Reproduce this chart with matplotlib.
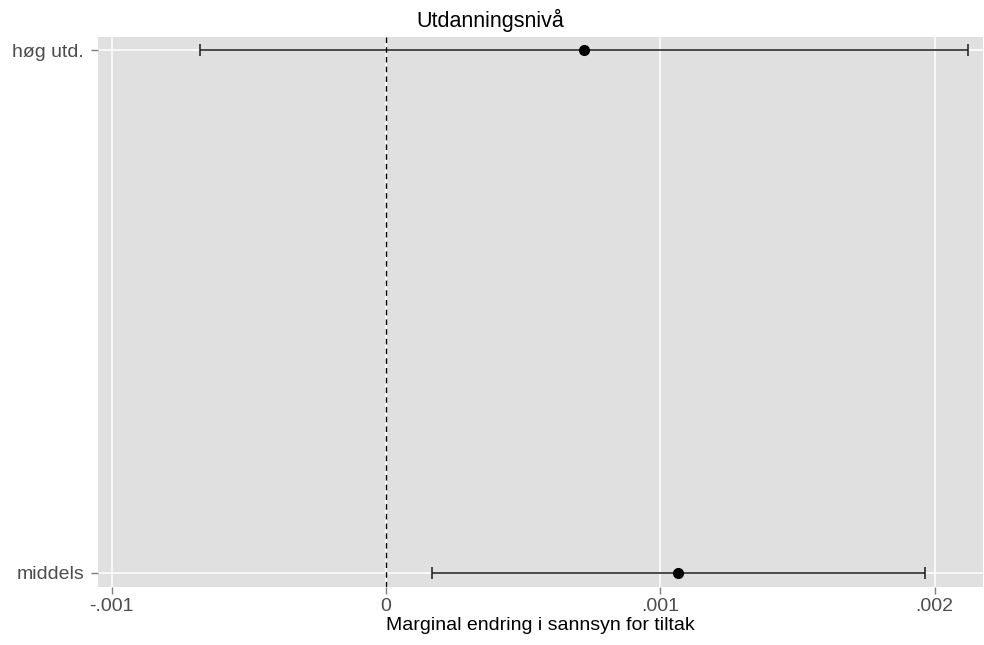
import matplotlib
matplotlib.use("Agg")
import matplotlib.pyplot as plt

categories = ["middels", "høg utd."]
estimates = [0.001065, 0.000722]
ci_low = [0.000168, -0.000679]
ci_high = [0.001964, 0.002123]
xticks = [-0.001, 0, 0.001, 0.002]
xticklabels = ["-.001", "0", ".001", ".002"]

plt.rcParams['font.family'] = ['Liberation Sans', 'DejaVu Sans']

fig = plt.figure(figsize=(9.84, 6.45), dpi=100)
ax = fig.add_axes([98/984, 1 - 587/645, (983-98)/984, (587-37)/645])
ax.set_facecolor("#E0E0E0")
for s in ax.spines.values():
    s.set_visible(False)

ypos = list(range(len(categories)))
ax.set_xlim(-0.00105, 0.002176)
ax.set_ylim(-0.027, 1.025)
ax.set_xticks(xticks)
ax.set_xticklabels(xticklabels)
ax.set_yticks(ypos)
ax.set_yticklabels(categories)
ax.grid(True, color="white", linewidth=1.1)
ax.set_axisbelow(True)
ax.tick_params(axis="both", colors="#7f7f7f", labelcolor="#4d4d4d", labelsize=14, length=5, width=1)
ax.tick_params(axis="y", pad=5)
ax.tick_params(axis="x", pad=3)

ax.axvline(0, color="black", linestyle=(0, (4, 3)), linewidth=1.0, zorder=2)

xerr = [[e - l for e, l in zip(estimates, ci_low)], [h - e for e, h in zip(estimates, ci_high)]]
ax.errorbar(estimates, ypos, xerr=xerr, fmt="o", color="black", ecolor="#1a1a1a",
            elinewidth=1.1, capsize=4, capthick=1.1, markersize=7, zorder=3)

fig.text(490/984, 1 - 20/645, "Utdanningsnivå", fontsize=15.5, color="black",
         ha="center", va="center")
ax.set_xlabel("Marginal endring i sannsyn for tiltak", fontsize=14, color="black", labelpad=1)

fig.savefig("out.png", dpi=100)
